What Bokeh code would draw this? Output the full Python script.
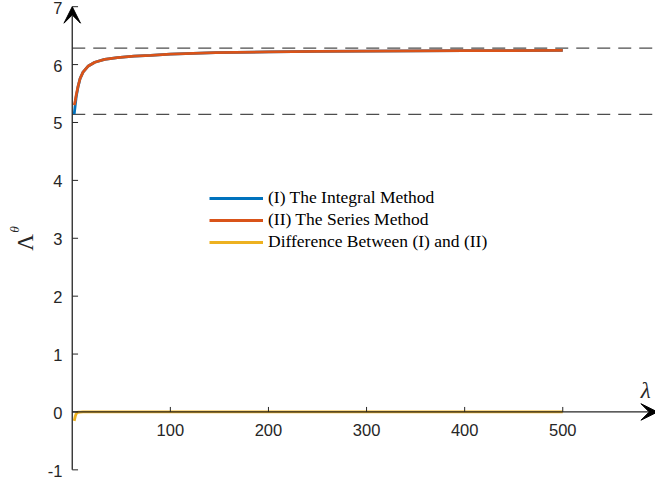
import numpy as np
from bokeh.plotting import figure
from bokeh.models import Range1d, Arrow, VeeHead, Legend, LegendItem
from bokeh.core.properties import value
from bokeh.embed import file_html
from bokeh.resources import INLINE

# ---------------- data ----------------
lam = [2, 3, 4, 6, 8, 11, 16, 23, 33, 46, 63, 80, 100, 146, 200, 250, 300, 400, 500]
integral_method = [5.145, 5.29, 5.44, 5.625, 5.758, 5.87, 5.97, 6.04, 6.09, 6.12, 6.145,
                   6.16, 6.18, 6.205, 6.22, 6.228, 6.232, 6.24, 6.245]
series_method = [5.30, 5.37, 5.47, 5.63, 5.76, 5.87, 5.97, 6.04, 6.09, 6.12, 6.145,
                 6.16, 6.18, 6.205, 6.22, 6.228, 6.232, 6.24, 6.245]
difference = [-0.155, -0.08, -0.03, -0.005, -0.002, 0.0, 0.0, 0.0, 0.0, 0.0, 0.0,
              0.0, 0.0, 0.0, 0.0, 0.0, 0.0, 0.0, 0.0]
ref_levels = [6.2832, 5.1416]          # dashed reference lines
x_ticks = [100, 200, 300, 400, 500]
x_tick_labels = ["100", "200", "300", "400", "500"]
y_ticks = [-1, 0, 1, 2, 3, 4, 5, 6, 7]
y_tick_labels = ["-1", "0", "1", "2", "3", "4", "5", "6", "7"]
legend_labels = ["(I) The Integral Method", "(II) The Series Method",
                 "Difference Between (I) and (II)"]
colors = ["#0072BD", "#D95319", "#EDB120"]

# ---------------- geometry helpers (reference pixel -> data) ----------------
W, H = 655, 486
REF_W, REF_H = 671, 502
SX, SY = W / REF_W, H / REF_H
X0PX, XS = 73.5, 1.005
Y0PX, YS = 425.0, 59.8
def rx(px):
    return (px - X0PX) / XS
def ry(py):
    return (Y0PX - py) / YS

AX = "#262626"

p = figure(width=W, height=H, output_backend="svg", toolbar_location=None,
           x_range=Range1d(rx(0), rx(REF_W)), y_range=Range1d(ry(REF_H), ry(0)),
           x_axis_type=None, y_axis_type=None, min_border=0)
p.grid.visible = False
p.outline_line_color = None
p.background_fill_color = "white"
p.border_fill_color = "white"

# dashed reference lines
p.ray(x=[0] * len(ref_levels), y=ref_levels, length=0, angle=0,
      line_color="#4d4d4d", line_width=1.2, line_dash="13 8")

# data lines
r1 = p.line(lam, integral_method, line_color=colors[0], line_width=2.8)
r2 = p.line(lam, series_method, line_color=colors[1], line_width=2.8)
r3 = p.line(lam, difference, line_color=colors[2], line_width=2.8)

# axes drawn as arrows through the origin
p.add_layout(Arrow(x_start=0, y_start=-1, x_end=0, y_end=7, line_color=AX, line_width=1.3,
                   end=VeeHead(size=16.5, fill_color="black", line_color="black")))
p.add_layout(Arrow(x_start=0, y_start=0, x_end=rx(673), y_end=0, line_color=AX, line_width=1.3,
                   end=VeeHead(size=16.5, fill_color="black", line_color="black")))

# ticks
p.ray(x=[0] * len(y_ticks), y=y_ticks, length=5.8, length_units="screen", angle=0,
      line_color=AX, line_width=1)
p.ray(x=x_ticks, y=[0] * len(x_ticks), length=5, length_units="screen", angle=np.pi / 2,
      line_color=AX, line_width=1)

# tick labels
p.text(x=x_ticks, y=[0] * len(x_ticks), text=x_tick_labels, text_font=value("Liberation Sans"),
       text_font_size="16.5px", text_color=AX, text_align="center", text_baseline="top",
       y_offset=12.5)
p.text(x=[0] * len(y_ticks), y=y_ticks, text=y_tick_labels, text_font=value("Liberation Sans"),
       text_font_size="16.5px", text_color=AX, text_align="right", text_baseline="middle",
       x_offset=-9.8, y_offset=1)

# axis labels
p.text(x=[rx(656)], y=[ry(403)], text=["λ"], text_font=value("Liberation Serif"),
       text_font_style="italic", text_font_size="23px", text_color=AX,
       text_align="left", text_baseline="alphabetic")
p.text(x=[rx(26)], y=[ry(250)], text=["Λ"], text_font=value("Liberation Serif"),
       text_font_size="23px", text_color=AX, text_align="center", text_baseline="middle",
       angle=np.pi / 2)
p.text(x=[rx(14.5)], y=[ry(236.5)], text=["θ"], text_font=value("Liberation Serif"),
       text_font_style="italic", text_font_size="13.5px", text_color=AX,
       text_align="center", text_baseline="middle", angle=np.pi / 2)

legend = Legend(items=[LegendItem(label=legend_labels[0], renderers=[r1]),
                       LegendItem(label=legend_labels[1], renderers=[r2]),
                       LegendItem(label=legend_labels[2], renderers=[r3])],
                location=(209, 234), orientation="vertical", border_line_color=None,
                background_fill_alpha=0, padding=0, margin=0, spacing=1,
                glyph_width=54, glyph_height=20, label_height=20, label_standoff=5,
                label_text_font="Liberation Serif", label_text_font_size="17.5px",
                label_text_color="black")
p.add_layout(legend)

open("out.html", "w").write(file_html(p, INLINE))
